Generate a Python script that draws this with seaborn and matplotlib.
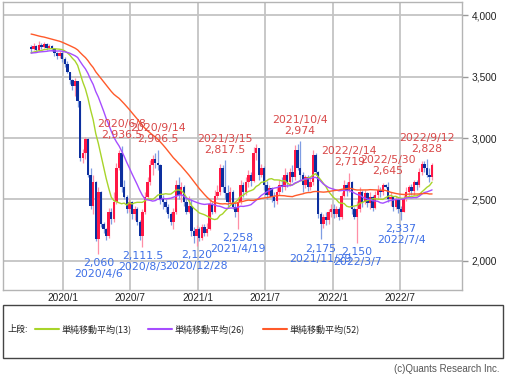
#!/usr/bin/env python3
"""
Weekly candlestick chart with 13/26/52-week simple moving averages.
"""

import numpy as np
import pandas as pd
import matplotlib
matplotlib.use('Agg')
import matplotlib.pyplot as plt
import matplotlib.dates as mdates
from matplotlib import font_manager
from matplotlib.lines import Line2D
from matplotlib.patches import Rectangle
from matplotlib.ticker import FuncFormatter
import seaborn as sns

sns.set_style("white")
plt.rcParams['font.family'] = ['Noto Sans CJK JP', 'DejaVu Sans']

names = {f.name for f in font_manager.fontManager.ttflist}
narrow = 'Liberation Sans Narrow' if 'Liberation Sans Narrow' in names else 'DejaVu Sans'
plain = 'Liberation Sans' if 'Liberation Sans' in names else 'DejaVu Sans'

# Weekly closes before the visible range (only feed the moving averages)
pre_close = [3980, 4020, 4050, 3990, 3960, 4010, 4060, 4030, 3970, 3940,
             4000, 4040, 4080, 4020, 3990, 3950, 3980, 4030, 4010, 3960,
             3990, 4020, 4000, 3970, 3990, 3960,
             3700, 3660, 3640, 3690, 3720, 3680, 3650, 3700, 3730, 3690,
             3660, 3700, 3720, 3680, 3650, 3690, 3710, 3670, 3700, 3690,
             3720, 3680, 3700, 3710, 3690]

first_open = 3740
start_week = '2019-10-07'

close = [3725, 3750, 3715, 3760, 3740, 3765, 3730, 3750, 3720, 3690,
         3665, 3690, 3640, 3600, 3540, 3470, 3420, 3460, 3300, 2840,
         2880, 2990, 2700, 2450, 2640, 2180, 2560, 2300, 2260, 2200,
         2400, 2340, 2480, 2760, 2880, 2600, 2520, 2420, 2480, 2380,
         2420, 2320, 2200, 2400, 2520, 2640, 2780, 2830, 2800, 2780,
         2500, 2480, 2440, 2380, 2320, 2400, 2620, 2540, 2600, 2480,
         2400, 2450, 2240, 2200, 2260, 2190, 2280, 2230, 2260, 2460,
         2400, 2530, 2560, 2760, 2600, 2550, 2480, 2560, 2440, 2400,
         2480, 2620, 2560, 2640, 2700, 2650, 2880, 2920, 2700, 2760,
         2620, 2540, 2590, 2520, 2490, 2560, 2620, 2600, 2700, 2640,
         2720, 2680, 2900, 2760, 2700, 2620, 2680, 2600, 2640, 2860,
         2720, 2380, 2300, 2360, 2330, 2400, 2420, 2380, 2420, 2360,
         2530, 2620, 2570, 2640, 2420, 2360, 2420, 2560, 2480, 2550,
         2470, 2520, 2430, 2540, 2580, 2560, 2620, 2600, 2500, 2520,
         2440, 2500, 2420, 2400, 2510, 2560, 2600, 2570, 2640, 2620,
         2720, 2790, 2760, 2700, 2680, 2780]

high = [3760, 3775, 3760, 3785, 3770, 3780, 3770, 3765, 3755, 3730,
        3700, 3705, 3700, 3660, 3630, 3540, 3480, 3490, 3440, 3300,
        2910, 3010, 3000, 2760, 2700, 2650, 2600, 2570, 2320, 2270,
        2430, 2430, 2560, 2800, 2900, 2936.5, 2660, 2540, 2510, 2490,
        2450, 2440, 2330, 2420, 2560, 2680, 2820, 2860, 2880, 2906.5,
        2790, 2540, 2500, 2460, 2400, 2430, 2660, 2680, 2640, 2620,
        2510, 2530, 2500, 2280, 2290, 2280, 2300, 2300, 2310, 2500,
        2480, 2580, 2620, 2790, 2780, 2817.5, 2620, 2600, 2580, 2470,
        2520, 2660, 2640, 2680, 2740, 2720, 2930, 2950, 2920, 2790,
        2770, 2650, 2620, 2600, 2560, 2600, 2660, 2680, 2760, 2720,
        2760, 2780, 2940, 2950, 2974, 2720, 2700, 2700, 2680, 2900,
        2880, 2730, 2400, 2380, 2400, 2420, 2460, 2460, 2450, 2440,
        2560, 2660, 2640, 2719, 2650, 2440, 2490, 2600, 2580, 2580,
        2560, 2560, 2540, 2570, 2620, 2600, 2635, 2630, 2645, 2560,
        2530, 2530, 2510, 2450, 2540, 2600, 2620, 2630, 2660, 2660,
        2760, 2810, 2810, 2828, 2760, 2800]

low = [3690, 3715, 3700, 3705, 3720, 3730, 3715, 3720, 3705, 3670,
       3640, 3650, 3620, 3580, 3525, 3440, 3390, 3340, 3250, 2810,
       2800, 2830, 2680, 2420, 2380, 2160, 2060, 2280, 2230, 2170,
       2190, 2300, 2320, 2460, 2740, 2560, 2500, 2390, 2400, 2340,
       2330, 2290, 2170, 2111.5, 2380, 2500, 2620, 2700, 2760, 2740,
       2460, 2420, 2400, 2350, 2290, 2260, 2380, 2500, 2480, 2450,
       2380, 2390, 2200, 2150, 2120, 2160, 2170, 2200, 2200, 2250,
       2380, 2390, 2500, 2540, 2560, 2500, 2440, 2460, 2420, 2360,
       2258, 2460, 2520, 2540, 2600, 2610, 2640, 2820, 2660, 2680,
       2580, 2500, 2520, 2480, 2440, 2460, 2540, 2560, 2580, 2600,
       2610, 2640, 2660, 2740, 2660, 2560, 2590, 2570, 2580, 2620,
       2700, 2350, 2175, 2270, 2290, 2300, 2360, 2350, 2360, 2330,
       2340, 2520, 2530, 2560, 2380, 2340, 2150, 2400, 2440, 2460,
       2440, 2420, 2410, 2420, 2500, 2520, 2540, 2590, 2480, 2450,
       2410, 2420, 2390, 2337, 2410, 2490, 2530, 2540, 2540, 2580,
       2600, 2700, 2720, 2680, 2640, 2660]

# labelled highs / lows
high_labels = ['2020-06-08', '2020-09-14', '2021-03-15', '2021-10-04',
               '2022-02-14', '2022-05-30', '2022-09-12']
low_labels = ['2020-04-06', '2020-08-03', '2020-12-28', '2021-04-19',
              '2021-11-29', '2022-03-07', '2022-07-04']

x_ticks = ['2020-01-01', '2020-07-01', '2021-01-01', '2021-07-01',
           '2022-01-01', '2022-07-01']
y_ticks = [2000, 2500, 3000, 3500, 4000]

ma_windows = [13, 26, 52]
ma_colors = ['#a8d42a', '#a64dff', '#ff5a2a']
legend_names = ['単純移動平均(13)', '単純移動平均(26)', '単純移動平均(52)']

# build table
dates = pd.date_range(start_week, periods=len(close), freq='W-MON')
df = pd.DataFrame({'date': dates, 'close': close, 'high': high, 'low': low})
df['open'] = [first_open] + close[:-1]
df['high'] = df[['high', 'open', 'close']].max(axis=1)
df['low'] = df[['low', 'open', 'close']].min(axis=1)
up = df['close'] >= df['open']

full = pd.Series(pre_close + close)
for w in ma_windows:
    df[f'ma{w}'] = full.rolling(w).mean().values[len(pre_close):]

# figure
W, H = 506, 374
fig = plt.figure(figsize=(W / 100, H / 100), dpi=100)
fx = lambda px: px / W
fy = lambda py: 1 - py / H
ax = fig.add_axes([fx(3), fy(290), fx(462) - fx(3), fy(2) - fy(290)])

# wicks
ax.vlines(df['date'], df['low'], df['high'],
          colors=np.where(up, '#ff8fa6', '#7f9de3'), linewidth=0.9, zorder=2)
# bodies
body = (df['close'] - df['open']).abs().clip(lower=4)
ax.bar(df['date'], body, bottom=df[['open', 'close']].min(axis=1), width=6.5,
       color=np.where(up, '#ff1744', '#0d2f9e'), linewidth=0, zorder=2)

# moving averages
for w, c in zip(ma_windows, ma_colors):
    sns.lineplot(data=df, x='date', y=f'ma{w}', ax=ax, color=c, linewidth=1.0, zorder=3)

# annotations
fmt = lambda v: f'{v:,.1f}' if v != int(v) else f'{v:,.0f}'
dlab = lambda d: f'{d.year}/{d.month}/{d.day}'
for d in high_labels:
    row = df[df['date'] == pd.Timestamp(d)].iloc[0]
    ax.annotate(f"{dlab(row['date'])}\n{fmt(row['high'])}", xy=(row['date'], row['high']),
                xytext=(0, 4), textcoords='offset points', ha='center', va='bottom',
                color='#d94848', fontsize=7.8, family=narrow, linespacing=1.1, zorder=4)
for d in low_labels:
    row = df[df['date'] == pd.Timestamp(d)].iloc[0]
    ax.annotate(f"{fmt(row['low'])}\n{dlab(row['date'])}", xy=(row['date'], row['low']),
                xytext=(0, -3), textcoords='offset points', ha='center', va='top',
                color='#3d6fe6', fontsize=7.8, family=narrow, linespacing=1.1, zorder=4)

# axes styling
ax.set_xlim(pd.Timestamp('2019-07-23'), pd.Timestamp('2022-12-16'))
ax.set_ylim(1764, 4106)
ax.set_xticks(pd.to_datetime(x_ticks))
ax.xaxis.set_major_formatter(mdates.DateFormatter('%Y/%-m'))
ax.set_yticks(y_ticks)
ax.yaxis.set_major_formatter(FuncFormatter(lambda v, p: f'{v:,.0f}'))
ax.yaxis.tick_right()
ax.set_xlabel('')
ax.set_ylabel('')
ax.grid(True, color='#c4c4c4', linewidth=1.3, zorder=0)
ax.set_axisbelow(True)
for s in ax.spines.values():
    s.set_color('#b4b4b4')
    s.set_linewidth(1.0)
ax.tick_params(axis='x', length=0, pad=2.5, labelsize=7.3, labelcolor='#222222')
ax.tick_params(axis='y', right=True, left=False, length=4, width=1, color='#999999',
               pad=3, labelsize=7.3, labelcolor='#222222')
for lab in ax.get_xticklabels() + ax.get_yticklabels():
    lab.set_family(plain)

# legend box
fig.add_artist(Rectangle((fx(3), fy(358)), fx(503) - fx(3), fy(305) - fy(358),
                         transform=fig.transFigure, fill=False, edgecolor='#444444', linewidth=1.0))
fig.text(fx(8), fy(329), '上段:', fontsize=6.5, va='center', ha='left', color='#222222')
leg_x = [35, 148, 263]
for lx, c, name in zip(leg_x, ma_colors, legend_names):
    fig.add_artist(Line2D([fx(lx), fx(lx + 24)], [fy(329), fy(329)], color=c, linewidth=1.5,
                          transform=fig.transFigure))
    fig.text(fx(lx + 27), fy(329), name, fontsize=6.5, va='center', ha='left', color='#222222')

fig.text(fx(500), fy(369), '(c)Quants Research Inc.', fontsize=7, ha='right', va='center',
         color='#555555', family=plain)

plt.savefig('out.png', dpi=100)
